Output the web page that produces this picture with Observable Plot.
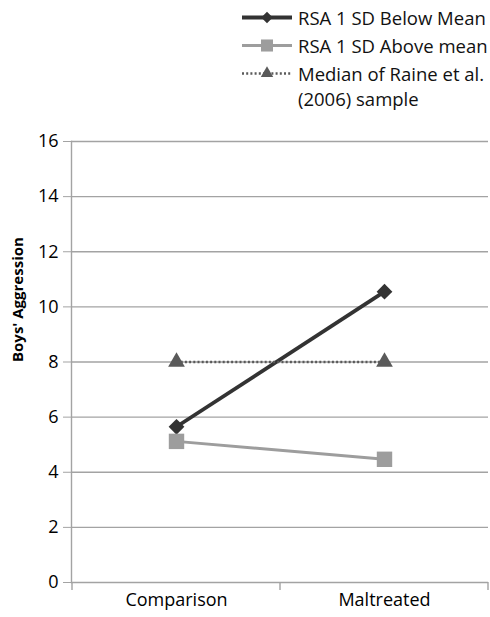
<!DOCTYPE html>
<html>
<head>
<meta charset="utf-8">
<script src="https://cdn.jsdelivr.net/npm/d3@7"></script>
<script src="https://cdn.jsdelivr.net/npm/@observablehq/plot@0.6"></script>
<style>
  body { margin: 0; background: #fff; font-family: "Open Sans", sans-serif; }
  #legend { position: relative; height: 125px; width: 490px; }
  .row { position: absolute; left: 242px; display: flex; align-items: flex-start; font-size: 18.5px; color: #111; line-height: 25px; white-space: nowrap; }
  .row svg { flex: none; margin-right: 6px; }
</style>
</head>
<body>
<div id="legend"></div>
<div id="chart"></div>
<script>
const categories = ["Comparison", "Maltreated"];
const belowMean = [5.65, 10.55];
const aboveMean = [5.12, 4.47];
const medianRaine = [8, 8];
const yTicks = [0, 2, 4, 6, 8, 10, 12, 14, 16];
const seriesNames = ["RSA 1 SD Below Mean", "RSA 1 SD Above mean", "Median of Raine et al. (2006) sample"];
const yLabel = "Boys' Aggression";

const rows = [
  ...categories.map((c, i) => ({series: seriesNames[0], cat: c, value: belowMean[i]})),
  ...categories.map((c, i) => ({series: seriesNames[1], cat: c, value: aboveMean[i]})),
  ...categories.map((c, i) => ({series: seriesNames[2], cat: c, value: medianRaine[i]}))
];
const styles = {
  [seriesNames[0]]: {stroke: "#333333", width: 3.8, dash: null, symbol: "diamond2", r: 7.1, lr: 5.2, fill: "#333333"},
  [seriesNames[1]]: {stroke: "#9d9d9d", width: 3, dash: null, symbol: "square", r: 8.7, lr: 6.8, fill: "#9d9d9d"},
  [seriesNames[2]]: {stroke: "#5a5a5a", width: 2.5, dash: "2,2.2", symbol: "triangle", r: 6.2, lr: 4.6, fill: "#5a5a5a"}
};

// Legend
const legend = document.getElementById("legend");
const legendTops = [5, 33, 61];
const legendText = ["RSA 1 SD Below Mean", "RSA 1 SD Above mean", "Median of Raine et al.<br>(2006) sample"];
seriesNames.forEach((name, i) => {
  const s = styles[name];
  const row = document.createElement("div");
  row.className = "row";
  row.style.top = legendTops[i] + "px";
  const svg = d3.create("svg").attr("width", 50).attr("height", 25);
  svg.append("line").attr("x1", 0).attr("x2", 50).attr("y1", 12.5).attr("y2", 12.5)
    .attr("stroke", s.stroke).attr("stroke-width", s.width).attr("stroke-dasharray", s.dash);
  const sym = {diamond2: d3.symbolDiamond2, square: d3.symbolSquare, triangle: d3.symbolTriangle}[s.symbol];
  svg.append("path").attr("transform", "translate(25,12.5)").attr("d", d3.symbol(sym, Math.PI * s.lr * s.lr)()).attr("fill", s.fill);
  row.appendChild(svg.node());
  const t = document.createElement("div");
  t.innerHTML = legendText[i];
  row.appendChild(t);
  legend.appendChild(row);
});

const chart = Plot.plot({
  width: 490,
  height: 492,
  marginTop: 16,
  marginBottom: 35,
  marginLeft: 71,
  marginRight: 2,
  style: {fontFamily: "Open Sans, sans-serif", fontSize: "18px", color: "#000", background: "#fff"},
  x: {type: "point", domain: categories, padding: 0.5, label: null},
  y: {domain: [0, 16], label: null},
  marks: [
    Plot.ruleY(yTicks, {stroke: "#a3a3a3", strokeWidth: 1.4}),
    Plot.frame({anchor: "left", stroke: "#a3a3a3", strokeWidth: 1.4}),
    Plot.axisY({ticks: yTicks, tickSize: 8, tickPadding: 5, stroke: "#a3a3a3", strokeOpacity: 1, label: null, fill: "#000", fontSize: 18}),
    Plot.axisX({tickSize: 0, tickPadding: 11, label: null, fill: "#000", fontSize: 18}),
    // category boundary ticks on the x axis
    (index, scales, values, dims) => {
      const g = d3.create("svg:g");
      const xs = categories.map(c => scales.x(c));
      const step = xs[1] - xs[0];
      const bounds = xs.map(x => x - step / 2).concat([xs[xs.length - 1] + step / 2]);
      const y0 = scales.y(0);
      bounds.forEach(x => g.append("line").attr("x1", x).attr("x2", x).attr("y1", y0).attr("y2", y0 + 8)
        .attr("stroke", "#a3a3a3").attr("stroke-width", 1.4));
      return g.node();
    },
    Plot.text([yLabel], {frameAnchor: "left", rotate: -90, dx: -53, fontWeight: "bold", fontSize: 15, fill: "#000"}),
    ...seriesNames.map(name => Plot.line(rows.filter(d => d.series === name), {
      x: "cat", y: "value", stroke: styles[name].stroke, strokeWidth: styles[name].width,
      strokeDasharray: styles[name].dash, strokeLinecap: "butt"
    })),
    ...seriesNames.map(name => Plot.dot(rows.filter(d => d.series === name), {
      x: "cat", y: "value", symbol: styles[name].symbol, r: styles[name].r, fill: styles[name].fill, stroke: "none"
    }))
  ]
});
document.getElementById("chart").appendChild(chart);
</script>
</body>
</html>
